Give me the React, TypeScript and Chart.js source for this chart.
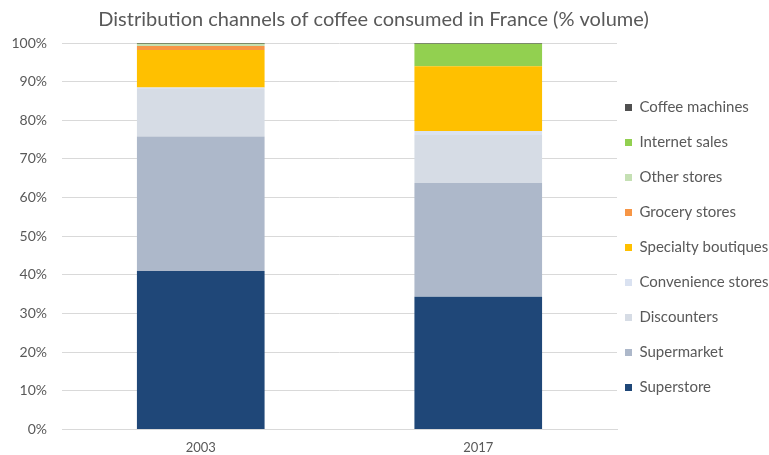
import React, { useEffect, useRef } from "react";
import { Chart, registerables } from "chart.js";

Chart.register(...registerables);

const categories = ["2003", "2017"];

const seriesNames = [
  "Superstore",
  "Supermarket",
  "Discounters",
  "Convenience stores",
  "Specialty boutiques",
  "Grocery stores",
  "Other stores",
  "Internet sales",
  "Coffee machines",
];

const superstore = [41.0, 34.3];
const supermarket = [34.8, 29.5];
const discounters = [12.3, 12.4];
const convenience = [0.4, 1.0];
const specialty = [9.7, 16.8];
const grocery = [1.0, 0.0];
const otherStores = [0.4, 0.0];
const internet = [0.2, 5.8];
const coffeeMachines = [0.2, 0.2];

const seriesValues = [
  superstore,
  supermarket,
  discounters,
  convenience,
  specialty,
  grocery,
  otherStores,
  internet,
  coffeeMachines,
];

const seriesColors = [
  "#1F4778",
  "#ADB8CA",
  "#D6DCE5",
  "#DAE2F1",
  "#FFC000",
  "#F79646",
  "#C5E0B4",
  "#92D050",
  "#505050",
];

const yTicks = [0, 10, 20, 30, 40, 50, 60, 70, 80, 90, 100];

const FONT = "Lato, 'Liberation Sans', sans-serif";
const TEXT = "#595959";
const GRID = "#D9D9D9";

const W = 769;
const H = 455;
const LEGEND_SHIFT_X = -12;
const LEGEND_SHIFT_Y = 14;
const TITLE_SHIFT_X = -11;

const nudgePlugin = {
  id: "nudge",
  afterLayout(chart: any) {
    const lg = chart.legend;
    if (lg) {
      lg.left += LEGEND_SHIFT_X;
      lg.right = chart.width;
      lg.top += LEGEND_SHIFT_Y;
      lg.bottom += LEGEND_SHIFT_Y;
    }
    const t = chart.titleBlock;
    if (t) {
      t.left += TITLE_SHIFT_X;
      t.right += TITLE_SHIFT_X;
    }
  },
};

export default function App() {
  const ref = useRef<HTMLCanvasElement | null>(null);

  useEffect(() => {
    if (!ref.current) return;
    const chart = new Chart(ref.current, {
      type: "bar",
      data: {
        labels: categories,
        datasets: seriesNames.map((name, i) => ({
          label: name,
          data: seriesValues[i],
          backgroundColor: seriesColors[i],
          borderWidth: 0,
          barPercentage: 0.46,
          categoryPercentage: 1.0,
        })),
      },
      options: {
        responsive: false,
        animation: false,
        layout: { padding: { left: 0, right: 0, top: 0, bottom: -12 } },
        plugins: {
          title: {
            display: true,
            text: "Distribution channels of coffee consumed in France (% volume)",
            color: TEXT,
            font: { family: FONT, size: 20, weight: "normal" },
            padding: { top: 8, bottom: 11 },
          },
          legend: {
            display: true,
            position: "right",
            reverse: true,
            maxWidth: 152,
            labels: {
              color: TEXT,
              font: { family: FONT, size: 15 },
              boxWidth: 7,
              boxHeight: 7,
              padding: 20,
            },
          },
          tooltip: { enabled: false },
        },
        scales: {
          x: {
            stacked: true,
            grid: { display: false, drawTicks: false },
            border: { display: true, color: GRID, width: 1 },
            ticks: {
              color: TEXT,
              font: { family: FONT, size: 13 },
              padding: 11,
            },
          },
          y: {
            stacked: true,
            min: 0,
            max: 100,
            afterBuildTicks: (scale: any) => {
              scale.ticks = yTicks.map((v) => ({ value: v }));
            },
            afterFit: (scale: any) => {
              scale.width = 62;
            },
            grid: { color: GRID, drawTicks: false },
            border: { display: false },
            ticks: {
              color: TEXT,
              font: { family: FONT, size: 14 },
              padding: 15,
              callback: (v: any) => v + "%",
            },
          },
        },
      },
      plugins: [nudgePlugin],
    });
    return () => chart.destroy();
  }, []);

  return (
    <div style={{ position: "fixed", left: 0, top: 0, width: W, height: H, background: "#fff" }}>
      <canvas ref={ref} width={W} height={H} style={{ display: "block" }} />
    </div>
  );
}
